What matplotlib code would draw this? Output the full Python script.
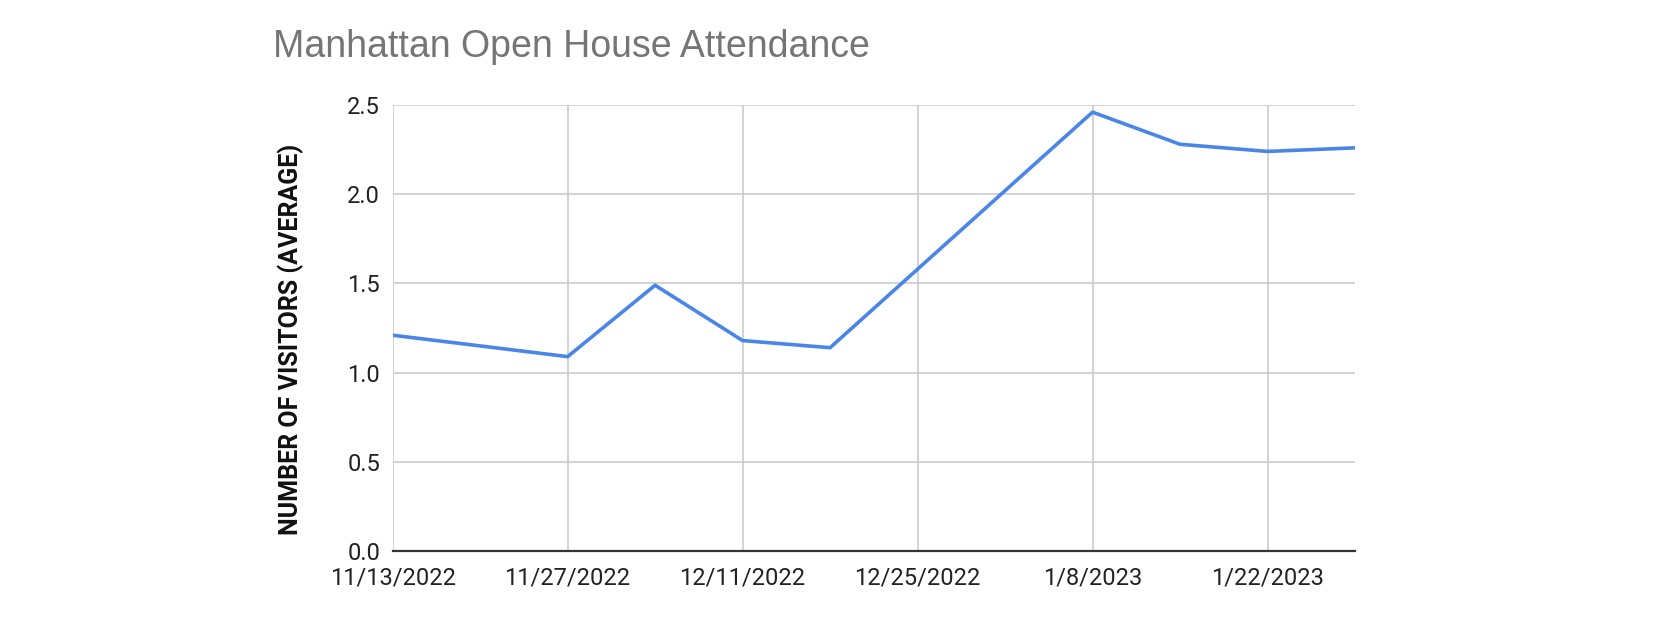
import datetime as dt
import matplotlib.pyplot as plt
from matplotlib.ticker import FuncFormatter

weeks = [
    dt.date(2022, 11, 13), dt.date(2022, 11, 20), dt.date(2022, 11, 27),
    dt.date(2022, 12, 4), dt.date(2022, 12, 11), dt.date(2022, 12, 18),
    dt.date(2022, 12, 25), dt.date(2023, 1, 1), dt.date(2023, 1, 8),
    dt.date(2023, 1, 15), dt.date(2023, 1, 22), dt.date(2023, 1, 29),
]
visitors = [1.21, 1.15, 1.09, 1.49, 1.18, 1.14, 1.58, 2.02, 2.46, 2.28, 2.24, 2.26]
y_ticks = [0.0, 0.5, 1.0, 1.5, 2.0, 2.5]

plt.rcParams['font.family'] = ['Roboto', 'DejaVu Sans']


def date_label(v, pos):
    d = dt.date(1970, 1, 1) + dt.timedelta(days=int(round(v)))
    return f"{d.month}/{d.day}/{d.year}"


fig = plt.figure(figsize=(16.78, 6.27), dpi=100)
ax = fig.add_axes([0.234, 0.121, 0.5735, 0.7115])

ax.plot(weeks, visitors, color='#4a86e8', linewidth=2.6, solid_capstyle='round')

ax.set_xlim(weeks[0], weeks[-1])
ax.set_ylim(0, 2.5)
ax.set_yticks(y_ticks)
ax.set_yticklabels([f"{v:.1f}" for v in y_ticks])
ax.set_xticks(weeks[::2])
ax.xaxis.set_major_formatter(FuncFormatter(date_label))

ax.grid(True, color='#cccccc', linewidth=1.2)
ax.set_axisbelow(True)
for side in ['left', 'right', 'top']:
    ax.spines[side].set_visible(False)
ax.spines['bottom'].set_color('#333333')
ax.spines['bottom'].set_linewidth(1.6)
ax.spines['bottom'].set_zorder(3)

ax.tick_params(axis='both', length=0, labelsize=17, colors='#222222')
ax.tick_params(axis='y', pad=9)
ax.tick_params(axis='x', pad=11)

ax.set_ylabel('NUMBER OF VISITORS (AVERAGE)', fontsize=18, fontweight='bold',
              color='#111111')
ax.yaxis.set_label_coords(-0.0925, 0.474)

fig.text(0.1627, 0.9247, 'Manhattan Open House Attendance', fontsize=27,
         color='#757575', family=['Liberation Sans', 'DejaVu Sans'], va='center')

fig.savefig('out.png', dpi=100, facecolor='white')
